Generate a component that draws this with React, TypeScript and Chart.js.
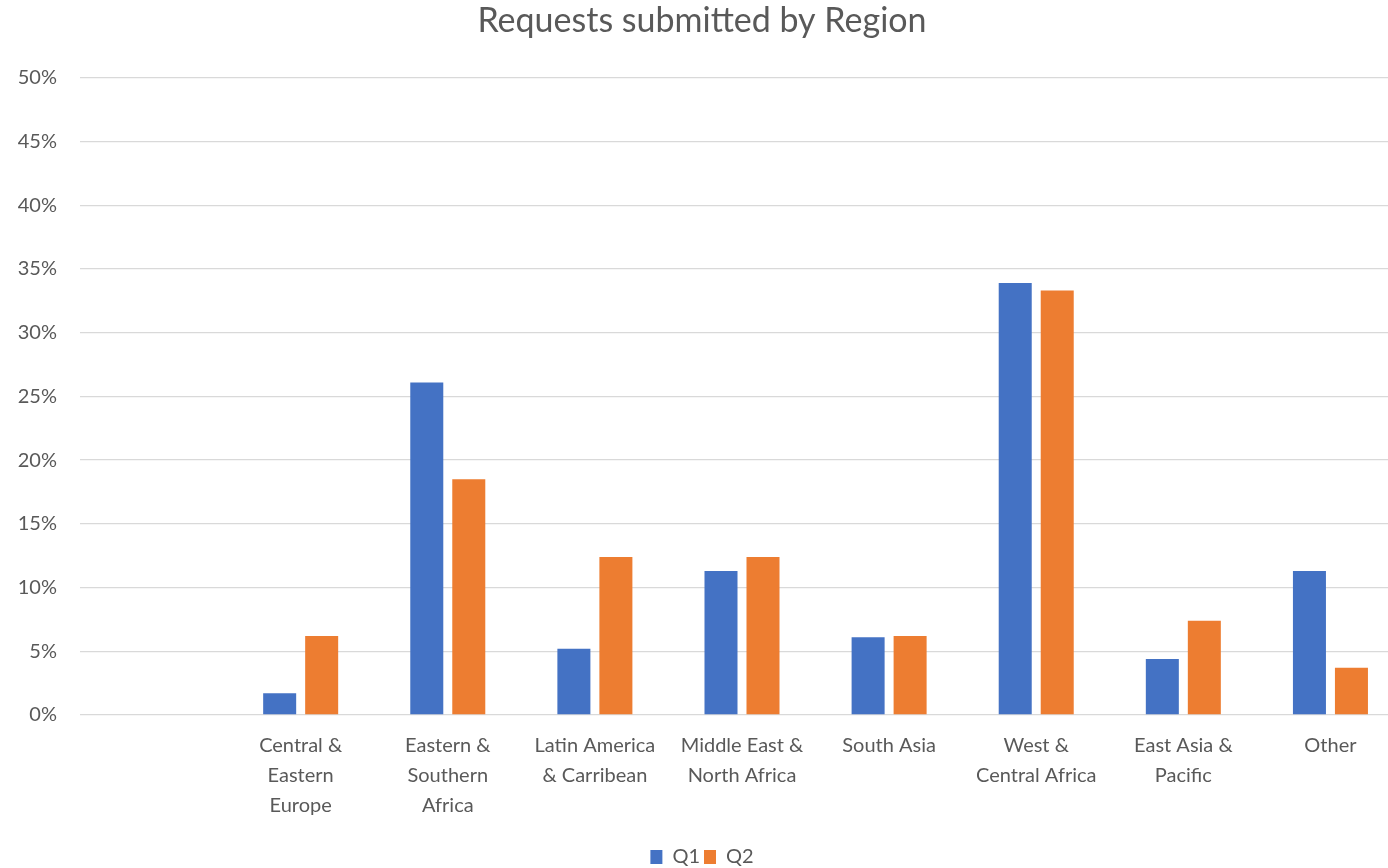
import React, { useEffect, useRef } from "react";
import { Chart, registerables } from "chart.js";

Chart.register(...registerables);

const categories: (string | string[])[] = [
  "",
  ["Central &", "Eastern", "Europe"],
  ["Eastern &", "Southern", "Africa"],
  ["Latin America", "& Carribean"],
  ["Middle East &", "North Africa"],
  "South Asia",
  ["West &", "Central Africa"],
  ["East Asia &", "Pacific"],
  "Other",
];
const q1Values = [null, 1.7, 26.1, 5.2, 11.3, 6.1, 33.9, 4.4, 11.3];
const q2Values = [null, 6.2, 18.5, 12.4, 12.4, 6.2, 33.3, 7.4, 3.7];
const yTicks = [0, 5, 10, 15, 20, 25, 30, 35, 40, 45, 50];

const FONT = "Lato, 'Open Sans', sans-serif";
const TEXT = "#595959";

export default function App() {
  const ref = useRef<HTMLCanvasElement | null>(null);
  useEffect(() => {
    document.body.style.margin = "0";
    if (!ref.current) return;
    const chart = new Chart(ref.current, {
      type: "bar",
      data: {
        labels: categories as any,
        datasets: [
          {
            label: "Q1",
            data: q1Values as any,
            backgroundColor: "#4472C4",
            categoryPercentage: 0.571,
            barPercentage: 0.786,
          },
          {
            label: "Q2",
            data: q2Values as any,
            backgroundColor: "#ED7D31",
            categoryPercentage: 0.571,
            barPercentage: 0.786,
          },
        ],
      },
      options: {
        animation: false,
        responsive: false,
        maintainAspectRatio: false,
        layout: { padding: { top: 0, right: 26, bottom: 0, left: 0 } },
        plugins: {
          title: {
            display: true,
            text: "Requests submitted by Region",
            color: TEXT,
            font: { family: FONT, size: 34, weight: "normal" },
            padding: { top: 1, bottom: 36 },
          },
          legend: {
            position: "bottom",
            labels: {
              color: TEXT,
              font: { family: FONT, size: 20 },
              boxWidth: 12,
              boxHeight: 14,
              padding: 4,
            },
          },
          tooltip: { enabled: false },
        },
        scales: {
          x: {
            afterFit: (s: any) => {
              s.height += 14;
            },
            grid: { display: false },
            border: { display: false },
            ticks: {
              color: TEXT,
              font: { family: FONT, size: 20, lineHeight: 1.5 },
              autoSkip: false,
              maxRotation: 0,
              minRotation: 0,
              padding: 8,
            },
          },
          y: {
            min: 0,
            max: 50,
            afterFit: (s: any) => {
              s.width = 80;
            },
            afterBuildTicks: (s: any) => {
              s.ticks = yTicks.map((v) => ({ value: v }));
            },
            grid: { color: "#D9D9D9", lineWidth: 1.3, drawTicks: false },
            border: { display: false },
            ticks: {
              color: TEXT,
              font: { family: FONT, size: 20 },
              padding: 23,
              callback: (v: any) => v + "%",
            },
          },
        },
      },
    });
    return () => chart.destroy();
  }, []);
  return (
    <div style={{ width: 1388, height: 868, overflow: "hidden" }}>
      <canvas ref={ref} width={1430} height={877} style={{ display: "block" }} />
    </div>
  );
}
